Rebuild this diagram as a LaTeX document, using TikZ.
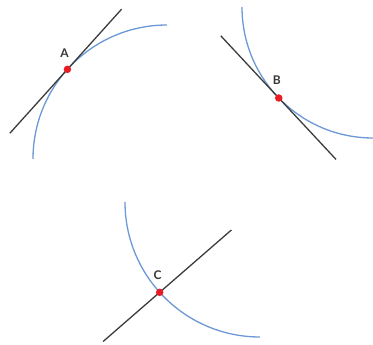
\documentclass[tikz,border=0pt]{standalone}
\usepackage{fontspec}
\setsansfont{Lato}
\usetikzlibrary{calc}
\definecolor{arcblue}{RGB}{108,152,214}
\definecolor{tanline}{RGB}{60,60,60}
\definecolor{dotred}{RGB}{232,28,36}
\definecolor{labelgray}{RGB}{55,55,55}
\begin{document}
\begin{tikzpicture}[x=1pt,y=1pt,
  arcline/.style={draw=arcblue,line width=1.3pt},
  tline/.style={draw=tanline,line width=1.3pt},
  pointdot/.style={circle,fill=dotred,inner sep=0pt,minimum size=7.5pt},
  ptlabel/.style={font=\sffamily\bfseries\fontsize{12}{13}\selectfont,text=labelgray,inner sep=0pt}]
\useasboundingbox (0,0) rectangle (373,345);
% Panel A
\coordinate (ca) at (167,186);
\draw[arcline] ($(ca)+(180:134)$) arc[start angle=180,end angle=90,radius=134pt];
\coordinate (A) at ($(ca)+(138:134)$);
\coordinate (a1) at ($(A)+(228:86)$);
\coordinate (a2) at ($(A)+(48:81)$);
\draw[tline] (a1) -- (a2);
\node[pointdot] (dA) at (A) {};
\node[ptlabel] (lA) at ($(A)+(-3,16)$) {A};
% Panel B
\coordinate (cb) at (373,338);
\draw[arcline] ($(cb)+(180:131)$) arc[start angle=180,end angle=270,radius=131pt];
\coordinate (B) at ($(cb)+(224:131)$);
\coordinate (b1) at ($(B)+(133:85)$);
\coordinate (b2) at ($(B)+(-47:84)$);
\draw[tline] (b1) -- (b2);
\node[pointdot] (dB) at (B) {};
\node[ptlabel] (lB) at ($(B)+(-2,18)$) {B};
% Panel C
\coordinate (cc) at (260,143);
\draw[arcline] ($(cc)+(180:135)$) arc[start angle=180,end angle=270,radius=135pt];
\coordinate (C) at ($(cc)+(222:135)$);
\coordinate (c1) at ($(C)+(221:75)$);
\coordinate (c2) at ($(C)+(41:95)$);
\draw[tline] (c1) -- (c2);
\node[pointdot] (dC) at (C) {};
\node[ptlabel] (lC) at ($(C)+(-2,17)$) {C};
\end{tikzpicture}
\end{document}
